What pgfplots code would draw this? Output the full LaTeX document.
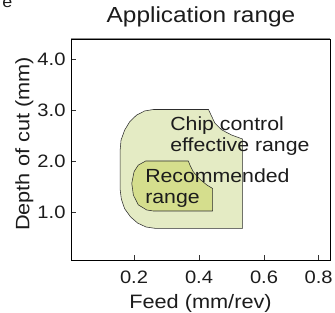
\documentclass[border=0pt]{standalone}
\usepackage{fontspec}
\setmainfont{Liberation Sans}[FakeStretch=1.12]
\usepackage{pgfplots}
\pgfplotsset{compat=1.18}
\definecolor{outerfill}{RGB}{228,235,196}
\definecolor{innerfill}{RGB}{213,222,141}
\definecolor{edge}{RGB}{45,45,45}
\definecolor{txt}{RGB}{28,28,28}
\begin{document}
\begin{tikzpicture}
\begin{axis}[
  name=ax, at={(0pt,0pt)}, anchor=south west,
  scale only axis, width=259pt, height=221pt,
  xmin=0.006, xmax=0.803, ymin=0.059, ymax=4.392,
  xtick={0.2,0.4,0.6,0.768}, xticklabels={0.2,0.4,0.6,0.8},
  ytick={1,2,3,4}, yticklabels={1.0,2.0,3.0,4.0},
  /pgf/number format/assume math mode=true,
  tick align=inside, tick pos=left, major tick length=5pt,
  tick style={black!80, line width=0.6pt},
  axis line style={black, line width=0.9pt},
  xticklabel style={font=\fontsize{18}{18}\selectfont, text=txt, anchor=base, inner sep=0pt, yshift=-23.3pt},
  yticklabel style={font=\fontsize{18}{18}\selectfont, text=txt, anchor=east, inner sep=0pt, xshift=-5.3pt},
  title={Application range},
  title style={at={(axis description cs:0.502,1.0484)}, anchor=base, inner sep=0pt, font=\fontsize{21.8}{21.8}\selectfont, text=txt},
  xlabel={Feed (mm/rev)},
  xlabel style={at={(axis description cs:0.5,-0.2186)}, anchor=base, inner sep=0pt, font=\fontsize{19.4}{19.4}\selectfont, text=txt},
  ylabel={Depth of cut (mm)},
  ylabel style={at={(axis description cs:-0.161,0.525)}, anchor=base, inner sep=0pt, font=\fontsize{19.4}{19.4}\selectfont, text=txt},
]
% Chip control effective range (outer region)
\addplot[fill=outerfill, draw=edge, line width=0.55pt, line join=round] coordinates {
  (0.260,3.010) (0.429,3.010)
  (0.437,2.900) (0.449,2.740) (0.470,2.610) (0.500,2.510) (0.534,2.430)
  (0.534,0.680) (0.265,0.680)
  (0.237,0.706) (0.211,0.783) (0.189,0.906) (0.171,1.065) (0.161,1.251) (0.157,1.450)
  (0.157,2.200)
  (0.160,2.410) (0.171,2.605) (0.187,2.773) (0.208,2.901) (0.233,2.982)
} -- cycle;
% Recommended range (inner region)
\addplot[fill=innerfill, draw=edge, line width=0.55pt, line join=round] coordinates {
  (0.236,2.000) (0.367,2.000)
  (0.372,1.920) (0.382,1.790) (0.403,1.640) (0.424,1.530) (0.442,1.460)
  (0.442,1.020) (0.259,1.020)
  (0.239,1.040) (0.213,1.140) (0.198,1.330) (0.193,1.560) (0.200,1.790) (0.213,1.920)
} -- cycle;
\node[anchor=base west, inner sep=0pt, text=txt, font=\fontsize{19}{19}\selectfont] at (axis cs:0.311,2.594) {Chip control};
\node[anchor=base west, inner sep=0pt, text=txt, font=\fontsize{19}{19}\selectfont] at (axis cs:0.311,2.182) {effective range};
\node[anchor=base west, inner sep=0pt, text=txt, font=\fontsize{19}{19}\selectfont] at (axis cs:0.234,1.575) {Recommended};
\node[anchor=base west, inner sep=0pt, text=txt, font=\fontsize{19}{19}\selectfont] at (axis cs:0.234,1.171) {range};
\end{axis}
\draw[color=black!45, line width=1pt] (0pt,221pt) -- (259pt,221pt);
\node[anchor=base west, inner sep=0pt, text=txt, font=\fontsize{16}{16}\selectfont] at (-68.8pt,252.7pt) {e};
\pgfresetboundingbox
\useasboundingbox (-71pt,-53pt) rectangle (264pt,260pt);
\end{tikzpicture}
\end{document}
